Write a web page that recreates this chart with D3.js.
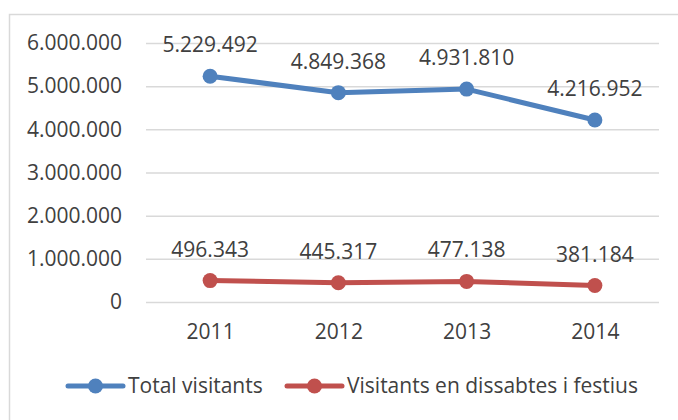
<!DOCTYPE html>
<html>
<head>
<meta charset="utf-8">
<script src="https://cdn.jsdelivr.net/npm/d3@7"></script>
<style>
  body { margin: 0; background: #fff; }
  text { font-family: "Open Sans", sans-serif; fill: #404040; }
</style>
</head>
<body>
<svg width="678" height="420"></svg>
<script>
	const years = ['2011', '2012', '2013', '2014'];
	const totalVisitants = [5229492, 4849368, 4931810, 4216952];
	const weekendVisitants = [496343, 445317, 477138, 381184];
	const yTicks = [0, 1000000, 2000000, 3000000, 4000000, 5000000, 6000000];
	const seriesNames = ['Total visitants', 'Visitants en dissabtes i festius'];
	const colors = ['#4f81bd', '#c0504d'];

	const svg = d3.select('svg');
	const width = +svg.attr('width');
	const height = +svg.attr('height');

	// chart border (runs off the right and bottom edge)
	svg.append('rect')
		.attr('x', 9.5)
		.attr('y', 14.5)
		.attr('width', width)
		.attr('height', height)
		.attr('fill', 'none')
		.attr('stroke', '#d9d9d9')
		.attr('stroke-width', 1.5);

	const x = d3.scalePoint()
		.domain(years)
		.range([146, 659])
		.padding(0.5);

	const y = d3.scaleLinear()
		.domain([0, 6000000])
		.range([302, 43]);

	// dotted thousands separator
	const fmt = d3.formatLocale({ decimal: ',', thousands: '.', grouping: [3], currency: ['', '€'] }).format(',d');

	const yAxis = svg.append('g')
		.attr('transform', 'translate(146,0)')
		.call(d3.axisLeft(y).tickValues(yTicks).tickFormat(fmt).tickSize(-513).tickPadding(24));
	yAxis.select('.domain').remove();
	yAxis.selectAll('.tick line').attr('stroke', '#d9d9d9').attr('stroke-width', 1.5);
	yAxis.selectAll('.tick text')
		.attr('font-size', 21)
		.attr('font-family', 'Open Sans')
		.attr('fill', '#404040');

	const xAxis = svg.append('g')
		.attr('transform', 'translate(0,302)')
		.call(d3.axisBottom(x).tickSize(0).tickPadding(22));
	xAxis.select('.domain').remove();
	xAxis.selectAll('.tick text')
		.attr('font-size', 21)
		.attr('font-family', 'Open Sans')
		.attr('fill', '#404040');

	const series = [totalVisitants, weekendVisitants];

	const line = d3.line()
		.x((d, i) => x(years[i]))
		.y(d => y(d));

	series.forEach((values, s) => {
		const g = svg.append('g');

		g.append('path')
			.datum(values)
			.attr('d', line)
			.attr('fill', 'none')
			.attr('stroke', colors[s])
			.attr('stroke-width', 5)
			.attr('stroke-linejoin', 'round')
			.attr('stroke-linecap', 'round');

		g.selectAll('circle')
			.data(values)
			.join('circle')
				.attr('cx', (d, i) => x(years[i]))
				.attr('cy', d => y(d))
				.attr('r', 7.5)
				.attr('fill', colors[s]);

		g.selectAll('text')
			.data(values)
			.join('text')
				.attr('x', (d, i) => x(years[i]))
				.attr('y', d => y(d) - 24)
				.attr('text-anchor', 'middle')
				.attr('font-size', 21)
				.text(d => fmt(d));
	});

	// legend
	const legendX = [68, 287];
	const legend = svg.append('g')
		.attr('transform', 'translate(0,386)');

	seriesNames.forEach((name, s) => {
		const lg = legend.append('g')
			.attr('transform', `translate(${legendX[s]},0)`);
		lg.append('line')
			.attr('x1', 0)
			.attr('x2', 55)
			.attr('stroke', colors[s])
			.attr('stroke-width', 5)
			.attr('stroke-linecap', 'round');
		lg.append('circle')
			.attr('cx', 27.5)
			.attr('r', 7.5)
			.attr('fill', colors[s]);
		lg.append('text')
			.attr('x', 60)
			.attr('dy', '0.35em')
			.attr('font-size', 21)
			.text(name);
	});
</script>
</body>
</html>
